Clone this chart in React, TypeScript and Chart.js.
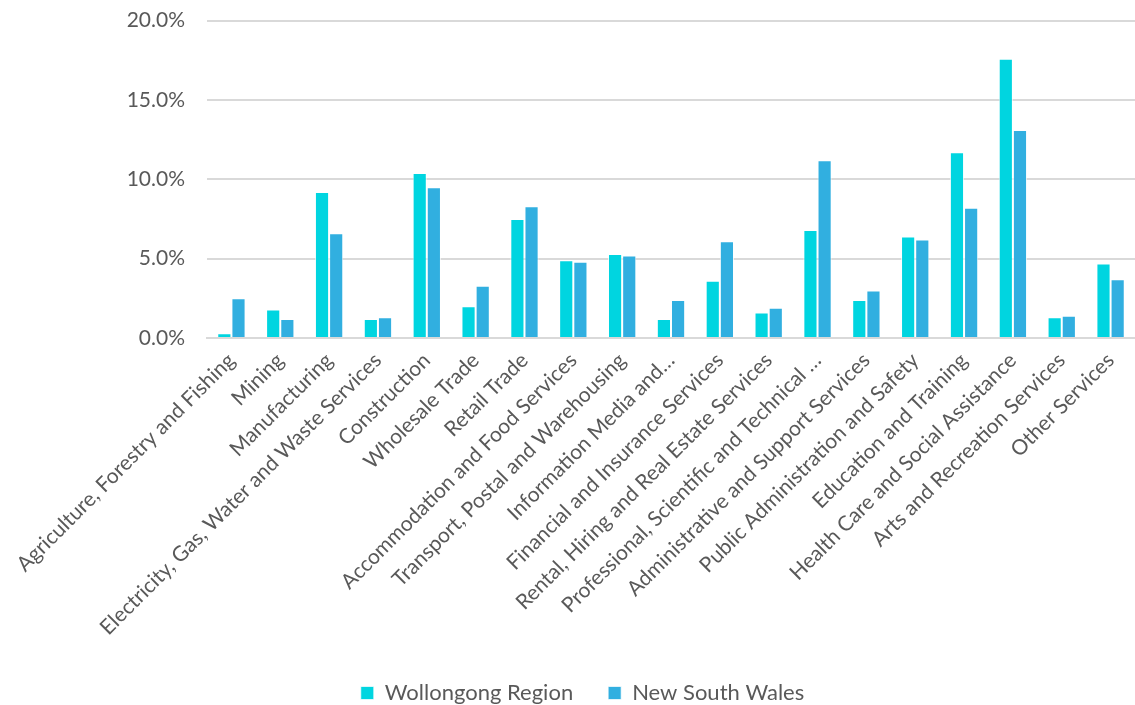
import React, { useEffect, useRef } from "react";
import { Chart, registerables } from "chart.js";

Chart.register(...registerables);

const categories = [
  "Agriculture, Forestry and Fishing",
  "Mining",
  "Manufacturing",
  "Electricity, Gas, Water and Waste Services",
  "Construction",
  "Wholesale Trade",
  "Retail Trade",
  "Accommodation and Food Services",
  "Transport, Postal and Warehousing",
  "Information Media and…",
  "Financial and Insurance Services",
  "Rental, Hiring and Real Estate Services",
  "Professional, Scientific and Technical …",
  "Administrative and Support Services",
  "Public Administration and Safety",
  "Education and Training",
  "Health Care and Social Assistance",
  "Arts and Recreation Services",
  "Other Services",
];

const wollongong = [0.3, 1.8, 9.2, 1.2, 10.4, 2.0, 7.5, 4.9, 5.3, 1.2, 3.6, 1.6, 6.8, 2.4, 6.4, 11.7, 17.6, 1.3, 4.7];
const nsw = [2.5, 1.2, 6.6, 1.3, 9.5, 3.3, 8.3, 4.8, 5.2, 2.4, 6.1, 1.9, 11.2, 3.0, 6.2, 8.2, 13.1, 1.4, 3.7];

const yTicks = [0, 5, 10, 15, 20];

const legendShift = {
  id: "legendShift",
  beforeDraw(chart: any) {
    const l = chart.legend;
    if (l && !l._shifted) {
      l.left += 15;
      l.right += 15;
      l._shifted = true;
    }
  },
};

export default function App() {
  const ref = useRef<HTMLCanvasElement | null>(null);
  useEffect(() => {
    document.body.style.margin = "0";
    const ctx = ref.current!;
    const font = "Lato, 'Open Sans', sans-serif";
    const chart = new Chart(ctx, {
      type: "bar",
      data: {
        labels: categories,
        datasets: [
          {
            label: "Wollongong Region",
            data: wollongong,
            backgroundColor: "#00D5E0",
            borderColor: "rgba(255,255,255,0.7)",
            borderWidth: 1,
            barPercentage: 1,
            categoryPercentage: 0.58,
          },
          {
            label: "New South Wales",
            data: nsw,
            backgroundColor: "#31AFE0",
            borderColor: "rgba(255,255,255,0.7)",
            borderWidth: 1,
            barPercentage: 1,
            categoryPercentage: 0.58,
          },
        ],
      },
      plugins: [legendShift],
      options: {
        animation: false,
        responsive: false,
        layout: { padding: { top: 0, right: 0, bottom: 0, left: 0 } },
        plugins: {
          legend: {
            position: "bottom",
            labels: {
              boxWidth: 13,
              boxHeight: 13,
              padding: 35,
              color: "#595959",
              font: { family: font, size: 22 },
              useBorderRadius: false,
            },
          },
          tooltip: { enabled: false },
        },
        scales: {
          x: {
            grid: { display: false },
            border: { color: "#d9d9d9", width: 2 },
            afterFit: (scale: any) => {
              scale.height = 309;
            },
            ticks: {
              color: "#595959",
              font: { family: font, size: 21 },
              minRotation: 45,
              maxRotation: 45,
              autoSkip: false,
              padding: 2,
            },
          },
          y: {
            min: 0,
            max: 20,
            afterBuildTicks: (scale: any) => {
              scale.ticks = yTicks.map((v) => ({ value: v }));
            },
            afterFit: (scale: any) => {
              scale.width = 207;
            },
            grid: { color: "#d9d9d9", lineWidth: 2, drawTicks: false },
            border: { display: false },
            ticks: {
              color: "#595959",
              font: { family: font, size: 21 },
              padding: 22,
              callback: (v: any) => Number(v).toFixed(1) + "%",
            },
          },
        },
      },
    });
    return () => chart.destroy();
  }, []);
  return (
    <div style={{ width: 1135, height: 705, overflow: "hidden" }}>
      <canvas ref={ref} width={1135} height={728} style={{ display: "block", marginTop: -14 }} />
    </div>
  );
}
